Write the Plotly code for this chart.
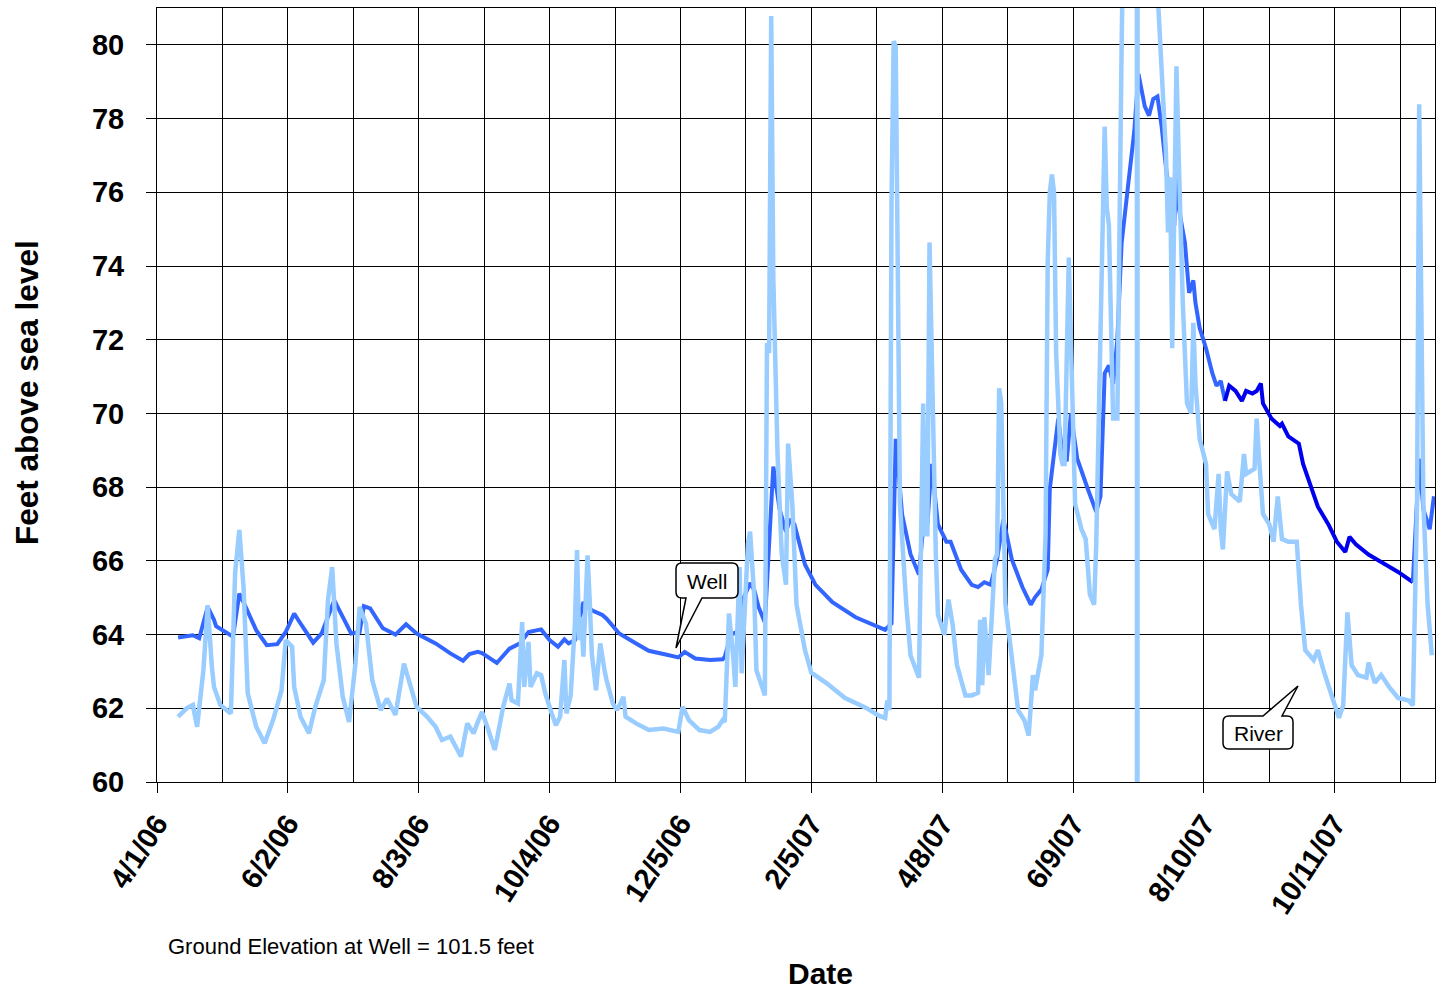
import pandas as pd
import plotly.graph_objects as go

# ---------------- data ----------------
well_dates = [
    "2006-04-11", "2006-04-18", "2006-04-21", "2006-04-25", "2006-04-28", "2006-04-29",
    "2006-05-07", "2006-05-10", "2006-05-13", "2006-05-18", "2006-05-23", "2006-05-28",
    "2006-06-01", "2006-06-05", "2006-06-07", "2006-06-14", "2006-06-18", "2006-06-24",
    "2006-06-28", "2006-07-02", "2006-07-06", "2006-07-08", "2006-07-11", "2006-07-17",
    "2006-07-23", "2006-07-28", "2006-08-02", "2006-08-11", "2006-08-18", "2006-08-24",
    "2006-08-27", "2006-08-31", "2006-09-02", "2006-09-09", "2006-09-15", "2006-09-20",
    "2006-09-24", "2006-09-30", "2006-10-04", "2006-10-08", "2006-10-11", "2006-10-13",
    "2006-10-16", "2006-10-20", "2006-10-24", "2006-10-29", "2006-10-31", "2006-11-06",
    "2006-11-14", "2006-11-20", "2006-11-28", "2006-12-04", "2006-12-07", "2006-12-12",
    "2006-12-19", "2006-12-25", "2006-12-26", "2006-12-29", "2007-01-02", "2007-01-04",
    "2007-01-07", "2007-01-09", "2007-01-11", "2007-01-14", "2007-01-18", "2007-01-21",
    "2007-01-24", "2007-01-26", "2007-01-28", "2007-02-02", "2007-02-07", "2007-02-15",
    "2007-02-26", "2007-03-06", "2007-03-12", "2007-03-15", "2007-03-17", "2007-03-20",
    "2007-03-24", "2007-03-28", "2007-03-30", "2007-04-01", "2007-04-03", "2007-04-06",
    "2007-04-10", "2007-04-12", "2007-04-17", "2007-04-22", "2007-04-25", "2007-04-28",
    "2007-05-01", "2007-05-04", "2007-05-07", "2007-05-11", "2007-05-16", "2007-05-20",
    "2007-05-22", "2007-05-25", "2007-05-28", "2007-05-29", "2007-06-02", "2007-06-04",
    "2007-06-06", "2007-06-08", "2007-06-11", "2007-06-16", "2007-06-20", "2007-06-22",
    "2007-06-24", "2007-06-26", "2007-06-28", "2007-06-30", "2007-07-02", "2007-07-05",
    "2007-07-08", "2007-07-10", "2007-07-13", "2007-07-15", "2007-07-17", "2007-07-19",
    "2007-07-21", "2007-07-23", "2007-07-26", "2007-07-27", "2007-07-28", "2007-07-29",
    "2007-08-01", "2007-08-03", "2007-08-05", "2007-08-06", "2007-08-08", "2007-08-11",
    "2007-08-14", "2007-08-16", "2007-08-18", "2007-08-20", "2007-08-22", "2007-08-25",
    "2007-08-28", "2007-08-30", "2007-09-02", "2007-09-04", "2007-09-06", "2007-09-07",
    "2007-09-11", "2007-09-15", "2007-09-16", "2007-09-19", "2007-09-24", "2007-09-26",
    "2007-09-30", "2007-10-03", "2007-10-08", "2007-10-12", "2007-10-16", "2007-10-18",
    "2007-10-21", "2007-10-27", "2007-11-02", "2007-11-10", "2007-11-17", "2007-11-20",
    "2007-11-22", "2007-11-25", "2007-11-27",
]
well_levels = [
    63.92, 63.98, 63.90, 64.75, 64.40, 64.23,
    63.94, 65.11, 64.75, 64.12, 63.71, 63.74,
    64.07, 64.57, 64.39, 63.78, 64.03, 64.93,
    64.48, 64.03, 64.07, 64.77, 64.71, 64.17,
    64.00, 64.28, 64.03, 63.76, 63.49, 63.29,
    63.47, 63.53, 63.50, 63.23, 63.62, 63.76,
    64.07, 64.14, 63.85, 63.67, 63.87, 63.76,
    63.85, 64.88, 64.66, 64.53, 64.43, 64.03,
    63.76, 63.56, 63.46, 63.38, 63.53, 63.35,
    63.31, 63.33, 63.40, 64.00, 64.10, 65.00,
    65.40, 65.20, 64.75, 64.33, 68.56, 67.40,
    66.79, 67.13, 66.99, 65.90, 65.35, 64.88,
    64.47, 64.26, 64.13, 64.30, 69.31, 67.27,
    66.18, 65.63, 66.92, 66.99, 68.63, 66.99,
    66.52, 66.52, 65.76, 65.35, 65.29, 65.42,
    65.35, 66.04, 67.13, 66.04, 65.29, 64.81,
    65.01, 65.22, 65.76, 67.95, 69.86, 68.90,
    68.70, 70.00, 68.77, 67.95, 67.33, 67.75,
    71.09, 71.30, 70.80, 72.00, 74.60, 76.14,
    77.64, 79.21, 78.33, 78.08, 78.53, 78.60,
    77.78, 76.69, 75.32, 75.10, 76.90, 75.60,
    74.64, 73.27, 73.61, 73.00, 72.32, 71.77,
    71.09, 70.75, 70.88, 70.34, 70.75, 70.61,
    70.34, 70.61, 70.54, 70.61, 70.81, 70.27,
    69.86, 69.66, 69.72, 69.38, 69.18, 68.63,
    67.95, 67.47, 66.99, 66.52, 66.24, 66.65,
    66.45, 66.17, 65.97, 65.70, 65.42, 68.77,
    67.40, 66.86, 67.75,
]

river_dates = [
    "2006-04-11", "2006-04-15", "2006-04-18", "2006-04-20", "2006-04-23", "2006-04-25",
    "2006-04-27", "2006-04-28", "2006-05-01", "2006-05-06", "2006-05-08", "2006-05-10",
    "2006-05-12", "2006-05-14", "2006-05-18", "2006-05-22", "2006-05-26", "2006-05-30",
    "2006-06-01", "2006-06-04", "2006-06-05", "2006-06-08", "2006-06-12", "2006-06-15",
    "2006-06-19", "2006-06-21", "2006-06-23", "2006-06-25", "2006-06-28", "2006-07-01",
    "2006-07-04", "2006-07-06", "2006-07-09", "2006-07-12", "2006-07-16", "2006-07-19",
    "2006-07-23", "2006-07-27", "2006-08-02", "2006-08-07", "2006-08-11", "2006-08-14",
    "2006-08-18", "2006-08-23", "2006-08-26", "2006-08-29", "2006-08-31", "2006-09-02",
    "2006-09-05", "2006-09-08", "2006-09-09", "2006-09-12", "2006-09-15", "2006-09-16",
    "2006-09-19", "2006-09-21", "2006-09-22", "2006-09-24", "2006-09-25", "2006-09-28",
    "2006-09-30", "2006-10-02", "2006-10-05", "2006-10-07", "2006-10-09", "2006-10-11",
    "2006-10-12", "2006-10-14", "2006-10-16", "2006-10-17", "2006-10-18", "2006-10-19",
    "2006-10-20", "2006-10-22", "2006-10-23", "2006-10-24", "2006-10-26", "2006-10-28",
    "2006-10-30", "2006-10-31", "2006-11-03", "2006-11-05", "2006-11-08", "2006-11-09",
    "2006-11-14", "2006-11-20", "2006-11-27", "2006-12-04", "2006-12-06", "2006-12-09",
    "2006-12-14", "2006-12-19", "2006-12-23", "2006-12-25", "2006-12-26", "2006-12-28",
    "2006-12-30", "2006-12-31", "2007-01-02", "2007-01-03", "2007-01-06", "2007-01-07",
    "2007-01-09", "2007-01-10", "2007-01-14", "2007-01-15", "2007-01-16", "2007-01-17",
    "2007-01-18", "2007-01-20", "2007-01-22", "2007-01-24", "2007-01-25", "2007-01-27",
    "2007-01-29", "2007-02-02", "2007-02-05", "2007-02-12", "2007-02-21", "2007-03-03",
    "2007-03-09", "2007-03-12", "2007-03-13", "2007-03-14", "2007-03-15", "2007-03-16",
    "2007-03-17", "2007-03-18", "2007-03-19", "2007-03-22", "2007-03-24", "2007-03-28",
    "2007-03-29", "2007-03-30", "2007-03-31", "2007-04-01", "2007-04-02", "2007-04-03",
    "2007-04-05", "2007-04-06", "2007-04-09", "2007-04-11", "2007-04-13", "2007-04-15",
    "2007-04-19", "2007-04-22", "2007-04-25", "2007-04-26", "2007-04-27", "2007-04-28",
    "2007-04-30", "2007-05-03", "2007-05-04", "2007-05-05", "2007-05-06", "2007-05-08",
    "2007-05-11", "2007-05-14", "2007-05-17", "2007-05-19", "2007-05-21", "2007-05-22",
    "2007-05-25", "2007-05-26", "2007-05-27", "2007-05-28", "2007-05-29", "2007-05-30",
    "2007-05-31", "2007-06-01", "2007-06-03", "2007-06-04", "2007-06-05", "2007-06-07",
    "2007-06-09", "2007-06-10", "2007-06-13", "2007-06-15", "2007-06-17", "2007-06-19",
    "2007-06-20", "2007-06-22", "2007-06-24", "2007-06-25", "2007-06-26", "2007-06-28",
    "2007-06-30", "2007-07-02", "2007-07-03", "2007-07-06", "2007-07-09 06:00",
    "2007-07-09 10:00", "2007-07-09 14:00", "2007-07-12", "2007-07-16", "2007-07-19",
    "2007-07-21", "2007-07-23", "2007-07-24", "2007-07-25", "2007-07-26", "2007-07-27",
    "2007-07-28", "2007-07-29", "2007-07-31", "2007-08-02", "2007-08-04", "2007-08-05",
    "2007-08-06", "2007-08-08", "2007-08-11", "2007-08-12", "2007-08-15", "2007-08-17",
    "2007-08-18", "2007-08-19", "2007-08-21", "2007-08-23", "2007-08-27", "2007-08-29",
    "2007-08-30", "2007-09-03", "2007-09-04", "2007-09-05", "2007-09-07", "2007-09-10",
    "2007-09-12", "2007-09-14", "2007-09-16", "2007-09-19", "2007-09-23", "2007-09-25",
    "2007-09-27", "2007-10-01", "2007-10-03", "2007-10-06", "2007-10-08", "2007-10-11",
    "2007-10-13", "2007-10-15", "2007-10-17", "2007-10-19", "2007-10-22", "2007-10-26",
    "2007-10-27", "2007-10-30", "2007-11-02", "2007-11-06", "2007-11-10", "2007-11-15",
    "2007-11-17", "2007-11-19", "2007-11-20", "2007-11-21", "2007-11-22", "2007-11-24",
    "2007-11-26",
]
river_levels = [
    61.77, 62.00, 62.09, 61.50, 63.04, 64.80,
    63.13, 62.58, 62.09, 61.86, 65.66, 66.84,
    65.29, 62.40, 61.50, 61.05, 61.68, 62.49,
    63.85, 63.67, 62.58, 61.77, 61.32, 62.04,
    62.76, 64.93, 65.83, 63.76, 62.31, 61.63,
    63.21, 64.75, 64.30, 62.76, 61.95, 62.26,
    61.82, 63.21, 62.04, 61.77, 61.50, 61.14,
    61.23, 60.69, 61.59, 61.32, 61.63, 61.90,
    61.41, 60.87, 61.14, 62.04, 62.67, 62.22,
    62.13, 64.34, 62.58, 63.80, 62.58, 62.95,
    62.90, 62.40, 61.86, 61.54, 61.77, 63.31,
    61.86, 62.36, 64.30, 66.29, 63.85, 64.48,
    63.40, 66.15, 64.93, 63.49, 62.49, 63.76,
    63.04, 62.76, 62.13, 61.95, 62.31, 61.77,
    61.59, 61.41, 61.45, 61.36, 62.04, 61.68,
    61.41, 61.36, 61.50, 61.68, 61.63, 64.57,
    63.40, 62.58, 65.83, 62.95, 66.47, 66.79,
    65.00, 63.03, 62.35, 71.91, 71.64, 80.78,
    73.68, 68.90, 66.18, 65.35, 69.18, 67.54,
    64.81, 63.58, 62.97, 62.69, 62.28, 62.01,
    61.80, 61.74, 62.21, 61.95, 75.73, 80.10,
    79.96, 74.37, 67.54, 64.81, 63.44, 62.83,
    66.17, 70.27, 66.72, 66.72, 74.64, 71.64,
    66.17, 64.54, 63.99, 64.95, 64.26, 63.17,
    62.35, 62.35, 62.42, 64.40, 62.63, 64.47,
    62.90, 66.04, 66.17, 70.68, 70.27, 64.81,
    63.44, 61.94, 61.67, 61.26, 62.90, 62.49,
    63.44, 64.81, 66.72, 74.10, 76.00, 76.48,
    76.00, 71.64, 68.90, 68.63, 68.63, 74.23,
    70.27, 67.54, 66.86, 66.59, 65.08, 64.81,
    66.45, 71.64, 77.78, 75.60, 75.10, 69.86,
    69.86, 79.83, 84.00, 85.50, 85.00,
    0.00, 85.00, 86.00, 84.00, 81.50,
    79.15, 77.10, 74.91, 76.41, 71.77, 75.18,
    79.42, 77.10, 73.00, 70.27, 70.00, 72.46,
    70.81, 69.31, 68.63, 67.27, 66.86, 68.36,
    66.86, 66.31, 68.43, 67.81, 67.61, 68.90,
    68.36, 68.50, 69.86, 68.90, 67.27, 66.99,
    66.52, 67.75, 66.59, 66.52, 66.52, 64.81,
    63.58, 63.31, 63.58, 62.97, 62.63, 62.08,
    61.74, 62.08, 64.60, 63.17, 62.90, 62.83,
    63.24, 62.69, 62.90, 62.56, 62.28, 62.21,
    62.08, 67.54, 78.39, 73.00, 67.54, 64.81,
    63.44,
]

x_tick_labels = ["4/1/06", "6/2/06", "8/3/06", "10/4/06", "12/5/06",
                 "2/5/07", "4/8/07", "6/9/07", "8/10/07", "10/11/07"]
y_tick_values = [60, 62, 64, 66, 68, 70, 72, 74, 76, 78, 80]

# ---------------- styling ----------------
FONT = "Liberation Sans, Arial, sans-serif"
RIVER_COLOR = "#99CCFF"
WELL_COLOR = "#3366FF"
WELL_DARK = "#0000EE"

W, H = 1437, 990
L, R, T, B = 157, 2, 8, 208
PW, PH = W - L - R, H - T - B


def paper(px, py):
    return (px - L) / PW, (H - B - py) / PH


def bubble_path(points):
    parts = []
    for cmd, coords in points:
        conv = []
        for j in range(0, len(coords), 2):
            x, y = paper(coords[j], coords[j + 1])
            conv.append(f"{x:.5f},{y:.5f}")
        parts.append(cmd + " " + " ".join(conv))
    return " ".join(parts) + " Z"


tick_dates = pd.to_datetime(x_tick_labels, format="%m/%d/%y")
grid_dates = pd.date_range("2006-04-01", periods=20, freq="31D")

wd = pd.to_datetime(well_dates, format="ISO8601")
rd = pd.to_datetime(river_dates, format="ISO8601")
i_dark0 = list(wd).index(pd.Timestamp("2007-08-20"))
i_dark1 = list(wd).index(pd.Timestamp("2007-11-17"))

fig = go.Figure()
segments = [
    (0, i_dark0 + 1, WELL_COLOR),
    (i_dark0, i_dark1 + 1, WELL_DARK),
    (i_dark1, len(well_dates), WELL_COLOR),
]
for a, b, c in segments:
    fig.add_trace(go.Scatter(
        x=wd[a:b], y=well_levels[a:b], mode="lines",
        line=dict(color=c, width=4), name="Well", showlegend=False))

fig.add_trace(go.Scatter(
    x=rd, y=river_levels, mode="lines",
    line=dict(color=RIVER_COLOR, width=4.5), name="River", showlegend=False))

fig.update_layout(
    width=W, height=H, autosize=False,
    margin=dict(l=L, r=R, t=T, b=B),
    paper_bgcolor="white", plot_bgcolor="white",
    font=dict(family=FONT, color="black"),
    xaxis=dict(
        type="date",
        range=["2006-04-01", "2007-11-27 12:00"],
        tickmode="array", tickvals=tick_dates, ticktext=x_tick_labels,
        tickangle=-57,
        tickfont=dict(size=29, weight="bold", family=FONT, color="black"),
        ticks="outside", ticklen=10, tickcolor="black", tickwidth=1,
        ticklabelstandoff=2,
        showgrid=True, gridcolor="black", gridwidth=1,
        minor=dict(tickmode="array", tickvals=grid_dates, showgrid=True,
                   gridcolor="black", gridwidth=1, ticks=""),
        showline=True, linecolor="black", linewidth=1, mirror=True,
        zeroline=False, automargin=False,
    ),
    yaxis=dict(
        range=[60, 81],
        tickmode="array", tickvals=y_tick_values,
        tickfont=dict(size=29, weight="bold", family=FONT, color="black"),
        ticks="outside", ticklen=10, tickcolor="black", tickwidth=1,
        ticklabelstandoff=16,
        showgrid=True, gridcolor="black", gridwidth=1,
        showline=True, linecolor="black", linewidth=1, mirror=True,
        zeroline=False, automargin=False,
    ),
)

# Axis titles and note
ax, ay = paper(820, 973)
fig.add_annotation(text="Date", xref="paper", yref="paper", x=ax, y=ay,
                   xanchor="center", yanchor="middle", showarrow=False,
                   font=dict(size=30, weight="bold", family=FONT, color="black"))
tx, ty = paper(27, 393)
fig.add_annotation(text="Feet above sea level", xref="paper", yref="paper",
                   x=tx, y=ty, textangle=-90, xanchor="center", yanchor="middle",
                   showarrow=False,
                   font=dict(size=31.5, weight="bold", family=FONT, color="black"))
gx, gy = paper(166, 946)
fig.add_annotation(text="Ground Elevation at Well = 101.5 feet", xref="paper",
                   yref="paper", x=gx, y=gy, xanchor="left", yanchor="middle",
                   showarrow=False,
                   font=dict(size=22, family=FONT, color="black"))

# Callout bubbles
well_bubble = bubble_path([
    ("M", (686, 598)), ("L", (676, 648)), ("L", (702, 598)), ("L", (732, 598)),
    ("Q", (738, 598, 738, 592)), ("L", (738, 569)), ("Q", (738, 563, 732, 563)),
    ("L", (682, 563)), ("Q", (676, 563, 676, 569)), ("L", (676, 592)),
    ("Q", (676, 598, 682, 598)),
])
river_bubble = bubble_path([
    ("M", (1229, 716)), ("L", (1263, 716)), ("L", (1298, 686)), ("L", (1282, 716)),
    ("L", (1287, 716)), ("Q", (1293, 716, 1293, 722)), ("L", (1293, 743)),
    ("Q", (1293, 749, 1287, 749)), ("L", (1229, 749)), ("Q", (1223, 749, 1223, 743)),
    ("L", (1223, 722)), ("Q", (1223, 716, 1229, 716)),
])
for p in (well_bubble, river_bubble):
    fig.add_shape(type="path", path=p, xref="paper", yref="paper",
                  fillcolor="white", line=dict(color="black", width=1.5), layer="above")

for label, (cx, cy) in (("Well", (707, 581)), ("River", (1258, 733))):
    px_, py_ = paper(cx, cy)
    fig.add_annotation(text=label, xref="paper", yref="paper", x=px_, y=py_,
                       xanchor="center", yanchor="middle", showarrow=False,
                       font=dict(size=21, family=FONT, color="black"))

page_fix = ("document.body.style.margin='0';"
            "document.body.style.overflow='hidden';"
            "window.dispatchEvent(new Event('resize'));")

fig.write_html("out.html", config=dict(responsive=False, displayModeBar=False),
               post_script=page_fix)
